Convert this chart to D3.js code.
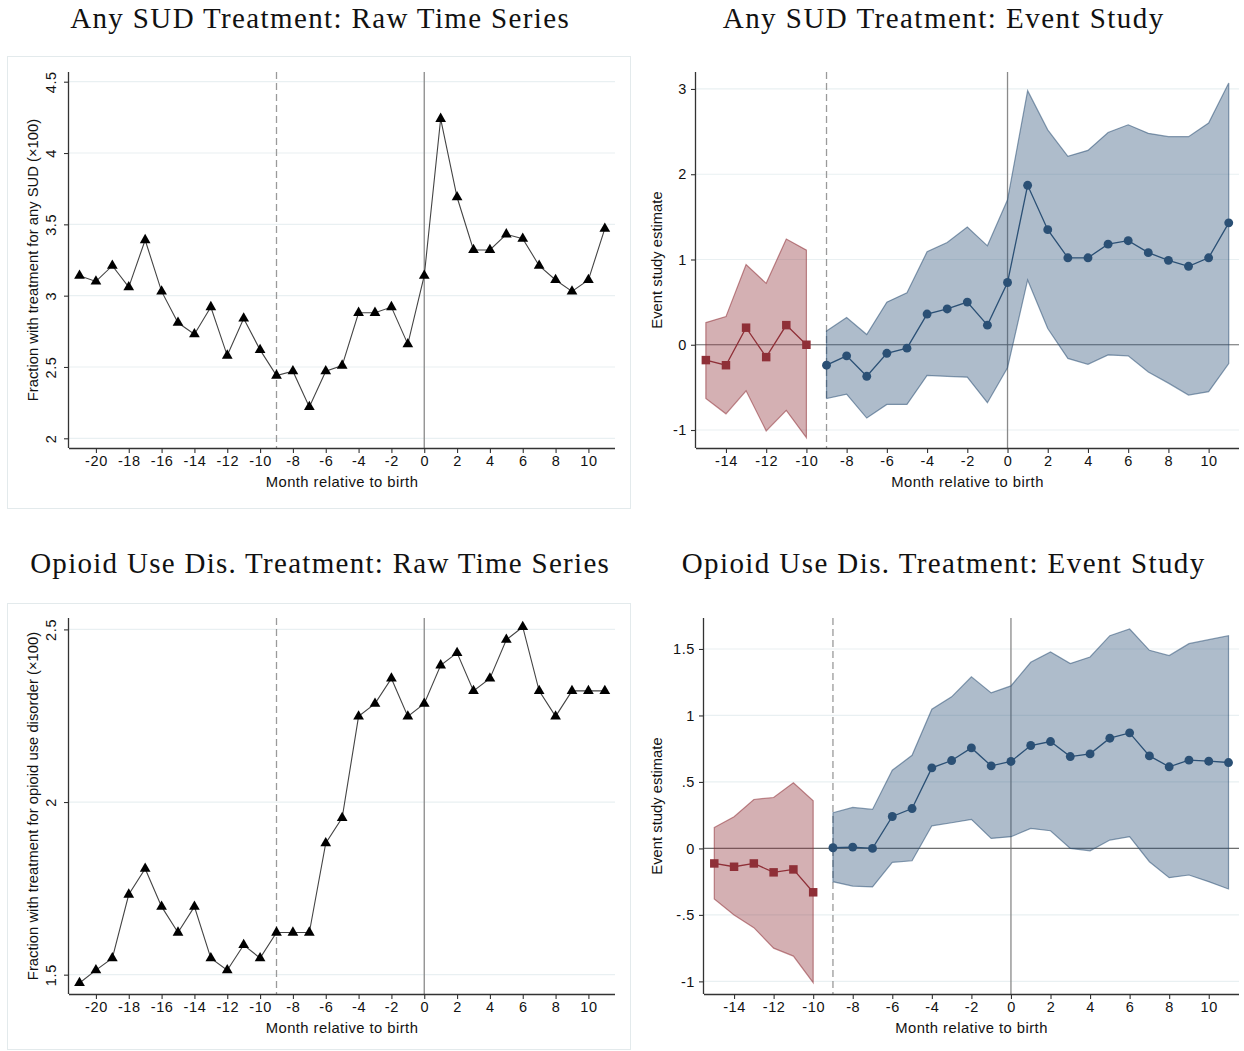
<!DOCTYPE html>
<html>
<head>
<meta charset="utf-8">
<script src="https://cdn.jsdelivr.net/npm/d3@7"></script>
<style>
  body { margin: 0; background: #fff; }
  svg { display: block; }
  .tick text { font-family: "Liberation Sans", Arial, sans-serif; }
</style>
</head>
<body>
<div id="chart"></div>
<script>
// ---- data ----
const rawMonths = [-21,-20,-19,-18,-17,-16,-15,-14,-13,-12,-11,-10,-9,-8,-7,-6,-5,-4,-3,-2,-1,0,1,2,3,4,5,6,7,8,9,10,11];
const sudRaw = [3.14,3.10,3.21,3.06,3.39,3.03,2.81,2.73,2.92,2.58,2.84,2.62,2.44,2.47,2.22,2.47,2.51,2.88,2.88,2.92,2.66,3.14,4.24,3.69,3.32,3.32,3.43,3.40,3.21,3.11,3.03,3.11,3.47];
const oudRaw = [1.476,1.513,1.548,1.732,1.807,1.697,1.622,1.697,1.548,1.513,1.586,1.548,1.622,1.622,1.622,1.881,1.954,2.248,2.285,2.358,2.248,2.285,2.396,2.432,2.322,2.358,2.470,2.507,2.322,2.248,2.322,2.322,2.322];

const preMonths = [-15,-14,-13,-12,-11,-10];
const postMonths = [-9,-8,-7,-6,-5,-4,-3,-2,-1,0,1,2,3,4,5,6,7,8,9,10,11];

const sudPre   = [-0.18,-0.24,0.20,-0.145,0.23,0.0];
const sudPreLo = [-0.63,-0.81,-0.54,-1.01,-0.77,-1.09];
const sudPreHi = [0.26,0.33,0.94,0.72,1.24,1.11];
const sudPost   = [-0.24,-0.13,-0.37,-0.10,-0.04,0.36,0.42,0.50,0.23,0.73,1.87,1.35,1.02,1.02,1.18,1.22,1.08,0.99,0.92,1.02,1.43];
const sudPostLo = [-0.63,-0.58,-0.86,-0.70,-0.70,-0.36,-0.37,-0.38,-0.68,-0.27,0.76,0.19,-0.16,-0.23,-0.12,-0.13,-0.32,-0.45,-0.59,-0.55,-0.22];
const sudPostHi = [0.16,0.32,0.12,0.50,0.61,1.09,1.20,1.38,1.16,1.70,2.98,2.52,2.21,2.28,2.49,2.58,2.48,2.44,2.44,2.60,3.07];

const oudPre   = [-0.113,-0.138,-0.113,-0.18,-0.158,-0.33];
const oudPreLo = [-0.38,-0.50,-0.596,-0.75,-0.81,-1.01];
const oudPreHi = [0.158,0.238,0.368,0.383,0.493,0.358];
const oudPost   = [0.005,0.01,0.0,0.24,0.30,0.606,0.661,0.756,0.621,0.654,0.774,0.804,0.691,0.711,0.829,0.869,0.696,0.614,0.664,0.656,0.646];
const oudPostLo = [-0.25,-0.283,-0.29,-0.105,-0.093,0.17,0.193,0.218,0.075,0.088,0.15,0.133,0.0,-0.018,0.063,0.088,-0.10,-0.22,-0.20,-0.25,-0.305];
const oudPostHi = [0.268,0.308,0.293,0.588,0.70,1.047,1.14,1.29,1.17,1.222,1.40,1.478,1.39,1.44,1.60,1.65,1.49,1.45,1.54,1.57,1.60];

const rawXTicks = [-20,-18,-16,-14,-12,-10,-8,-6,-4,-2,0,2,4,6,8,10];
const esXTicks = [-14,-12,-10,-8,-6,-4,-2,0,2,4,6,8,10];
const sudRawYTicks = [2,2.5,3,3.5,4,4.5];
const oudRawYTicks = [1.5,2,2.5];
const sudEsYTicks = [-1,0,1,2,3];
const oudEsYTicks = [-1,-0.5,0,0.5,1,1.5];

const titles = [
  "Any SUD Treatment: Raw Time Series",
  "Any SUD Treatment: Event Study",
  "Opioid Use Dis. Treatment: Raw Time Series",
  "Opioid Use Dis. Treatment: Event Study"
];

// ---- styling ----
const W = 1244, H = 1051;
const sansFont = '"Liberation Sans", Arial, Helvetica, sans-serif';
const serifFont = '"Liberation Serif", "Times New Roman", serif';
const gridColor = "#e9f0f2";
const axisColor = "#333";
const red = "#8f2f37", blue = "#2b5075";

// Stata-style number labels: drop leading zero
const stataFmt = d => String(d).replace(/^(-?)0\./, "$1.");

const svg = d3.select("#chart").append("svg")
  .attr("width", W).attr("height", H)
  .style("font-family", sansFont);

// serif titles; a little letter spacing makes up for Times being narrower than the original face
function addTitle(text, cx, y, targetWidth) {
  const t = svg.append("text")
    .attr("x", cx).attr("y", y)
    .attr("text-anchor", "middle")
    .style("font-family", serifFont)
    .style("font-size", "29px")
    .attr("fill", "#111")
    .text(text);
  const len = t.node().getComputedTextLength();
  const ls = Math.max(0, (targetWidth - len) / text.length);
  t.style("letter-spacing", ls + "px").attr("x", cx + ls / 2);
}

function drawFrame(cfg) {
  // light outer border used by the raw-series panels
  if (cfg.box) {
    svg.append("rect")
      .attr("x", cfg.box[0]).attr("y", cfg.box[1])
      .attr("width", cfg.box[2] - cfg.box[0]).attr("height", cfg.box[3] - cfg.box[1])
      .attr("fill", "none").attr("stroke", "#e3eaec").attr("stroke-width", 1);
  }

  const x = d3.scaleLinear().domain(cfg.xDomain).range([cfg.left, cfg.right]);
  const y = d3.scaleLinear().domain(cfg.yDomain).range([cfg.bottom, cfg.top]);
  const g = svg.append("g");

  // gridlines
  g.selectAll(".grid").data(cfg.yTicks).join("line")
    .attr("x1", cfg.left).attr("x2", cfg.right)
    .attr("y1", d => y(d)).attr("y2", d => y(d))
    .attr("stroke", gridColor).attr("stroke-width", 1.2);

  // reference lines
  g.append("line")
    .attr("x1", x(-9)).attr("x2", x(-9))
    .attr("y1", cfg.top).attr("y2", cfg.bottom)
    .attr("stroke", "#9a9a9a").attr("stroke-width", 1.3)
    .attr("stroke-dasharray", "7,4");
  g.append("line")
    .attr("x1", x(0)).attr("x2", x(0))
    .attr("y1", cfg.top).attr("y2", cfg.bottom)
    .attr("stroke", "#8a8a8a").attr("stroke-width", 1.3);

  // axes
  const xAxis = d3.axisBottom(x).tickValues(cfg.xTicks).tickSize(5).tickPadding(3)
    .tickFormat(d => String(d));
  const xg = g.append("g").attr("transform", `translate(0,${cfg.bottom})`).call(xAxis);
  xg.select(".domain").attr("d", `M${cfg.left},0.5H${cfg.right}`);
  const yAxis = d3.axisLeft(y).tickValues(cfg.yTicks).tickSize(5).tickFormat(stataFmt);
  const yg = g.append("g").attr("transform", `translate(${cfg.left},0)`).call(yAxis);
  yg.select(".domain").attr("d", `M-0.5,${cfg.top}V${cfg.bottom}`);

  [xg, yg].forEach(a => {
    a.select(".domain").attr("stroke", axisColor).attr("stroke-width", 1.3);
    a.selectAll(".tick line").attr("stroke", axisColor).attr("stroke-width", 1.1);
    a.selectAll(".tick text").attr("fill", "#111")
      .style("font-size", "14.5px").style("letter-spacing", "0.6px");
  });

  if (cfg.rotateY) {
    yg.selectAll(".tick text")
      .attr("transform", "rotate(-90)")
      .attr("x", 0).attr("y", -13)
      .attr("dy", 0)
      .attr("text-anchor", "middle");
  } else {
    yg.selectAll(".tick text").attr("x", -9);
  }

  // axis titles
  g.append("text")
    .attr("x", (cfg.left + cfg.right) / 2).attr("y", cfg.bottom + 39)
    .attr("text-anchor", "middle").style("font-size", "14.8px")
    .style("letter-spacing", "0.45px").attr("fill", "#111")
    .text("Month relative to birth");
  g.append("text")
    .attr("transform", `translate(${cfg.yTitleX},${(cfg.top + cfg.bottom) / 2}) rotate(-90)`)
    .attr("text-anchor", "middle").style("font-size", "14.8px").attr("fill", "#111")
    .text(cfg.yTitle);

  return { g, x, y };
}

function drawRaw(cfg, months, values) {
  const { g, x, y } = drawFrame(cfg);
  const pts = months.map((m, i) => [m, values[i]]);
  g.append("path")
    .datum(pts)
    .attr("fill", "none").attr("stroke", "#444").attr("stroke-width", 1.1)
    .attr("d", d3.line().x(d => x(d[0])).y(d => y(d[1])));
  const tri = d3.symbol().type(d3.symbolTriangle).size(50);
  g.selectAll(".tri").data(pts).join("path")
    .attr("transform", d => `translate(${x(d[0])},${y(d[1])})`)
    .attr("d", tri).attr("fill", "#000");
}

function drawSeries(g, x, y, months, est, lo, hi, color, symbolType, symSize) {
  const rows = months.map((m, i) => ({ m, est: est[i], lo: lo[i], hi: hi[i] }));
  g.append("path")
    .datum(rows)
    .attr("fill", color).attr("fill-opacity", 0.38)
    .attr("stroke", color).attr("stroke-opacity", 0.55).attr("stroke-width", 1.2)
    .attr("d", d3.area().x(d => x(d.m)).y0(d => y(d.lo)).y1(d => y(d.hi)));
  g.append("path")
    .datum(rows)
    .attr("fill", "none").attr("stroke", color).attr("stroke-width", 1.3)
    .attr("d", d3.line().x(d => x(d.m)).y(d => y(d.est)));
  const sym = d3.symbol().type(symbolType).size(symSize);
  g.selectAll(null).data(rows).join("path")
    .attr("transform", d => `translate(${x(d.m)},${y(d.est)})`)
    .attr("d", sym).attr("fill", color);
}

function drawEvent(cfg, pre, post) {
  const { g, x, y } = drawFrame(cfg);
  // zero line
  g.append("line")
    .attr("x1", cfg.left).attr("x2", cfg.right)
    .attr("y1", y(0)).attr("y2", y(0))
    .attr("stroke", "#6e6e6e").attr("stroke-width", 1.2);
  drawSeries(g, x, y, preMonths, pre[0], pre[1], pre[2], red, d3.symbolSquare, 72);
  drawSeries(g, x, y, postMonths, post[0], post[1], post[2], blue, d3.symbolCircle, 62);
}

// ---- panels ----
addTitle(titles[0], 319.5, 28, 500);
addTitle(titles[1], 943, 28, 442);
addTitle(titles[2], 319.5, 573, 580);
addTitle(titles[3], 943, 573, 524);

drawRaw({
  box: [7.5, 56.5, 630.5, 508.5],
  left: 69, right: 615, top: 72, bottom: 448,
  xDomain: [-21.64, 11.62], yDomain: [1.932, 4.568],
  xTicks: rawXTicks, yTicks: sudRawYTicks, rotateY: true,
  yTitle: "Fraction with treatment for any SUD (\u00d7100)", yTitleX: 38
}, rawMonths, sudRaw);

drawEvent({
  left: 696, right: 1239, top: 72, bottom: 448,
  xDomain: [-15.49, 11.51], yDomain: [-1.211, 3.199],
  xTicks: esXTicks, yTicks: sudEsYTicks, rotateY: false,
  yTitle: "Event study estimate", yTitleX: 662
}, [sudPre, sudPreLo, sudPreHi], [sudPost, sudPostLo, sudPostHi]);

drawRaw({
  box: [7.5, 603.5, 630.5, 1049.5],
  left: 69, right: 615, top: 618, bottom: 994,
  xDomain: [-21.64, 11.62], yDomain: [1.444, 2.533],
  xTicks: rawXTicks, yTicks: oudRawYTicks, rotateY: true,
  yTitle: "Fraction with treatment for opioid use disorder (\u00d7100)", yTitleX: 38
}, rawMonths, oudRaw);

drawEvent({
  left: 704, right: 1239, top: 618, bottom: 994,
  xDomain: [-15.52, 11.53], yDomain: [-1.095, 1.733],
  xTicks: esXTicks, yTicks: oudEsYTicks, rotateY: false,
  yTitle: "Event study estimate", yTitleX: 662
}, [oudPre, oudPreLo, oudPreHi], [oudPost, oudPostLo, oudPostHi]);
</script>
</body>
</html>
